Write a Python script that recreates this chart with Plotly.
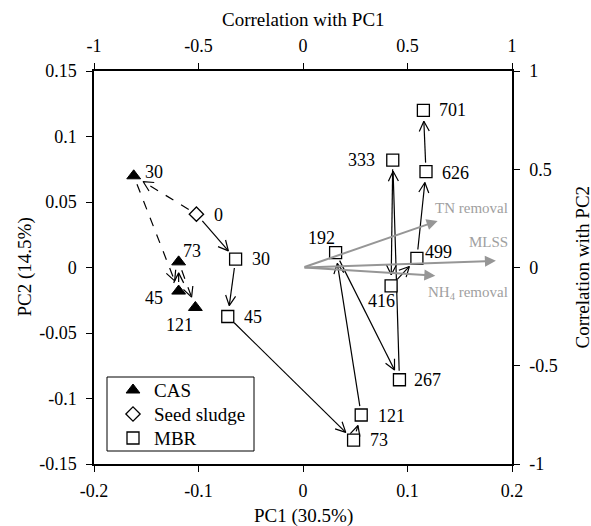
import math
import plotly.graph_objects as go

# ---------------- data ----------------
cas_days = [30, 45, 73, 121]
cas_pc1 = [-0.162, -0.119, -0.119, -0.103]
cas_pc2 = [0.070, -0.018, 0.0043, -0.0305]

seed_days = [0]
seed_pc1 = [-0.102]
seed_pc2 = [0.0407]

mbr_days = [30, 45, 73, 121, 192, 267, 333, 416, 499, 626, 701]
mbr_pc1 = [-0.0645, -0.072, 0.0484, 0.0557, 0.0312, 0.0923, 0.0859, 0.0843, 0.109, 0.1177, 0.1152]
mbr_pc2 = [0.0064, -0.0374, -0.1317, -0.1126, 0.0114, -0.0857, 0.0819, -0.014, 0.0069, 0.0732, 0.120]

loading_names = ["TN removal", "MLSS", "NH<sub>4</sub> removal"]
loading_corr1 = [0.644, 0.923, 0.633]
loading_corr2 = [0.237, 0.034, -0.042]

legend_names = ["CAS", "Seed sludge", "MBR"]

pc_x_ticks = [-0.2, -0.1, 0, 0.1, 0.2]
pc_x_ticktext = ["-0.2", "-0.1", "0", "0.1", "0.2"]
pc_y_ticks = [-0.15, -0.1, -0.05, 0, 0.05, 0.1, 0.15]
pc_y_ticktext = ["-0.15", "-0.1", "-0.05", "0", "0.05", "0.1", "0.15"]
corr_ticks = [-1, -0.5, 0, 0.5, 1]
corr_ticktext = ["-1", "-0.5", "0", "0.5", "1"]

# ---------------- layout constants ----------------
W, H = 591, 526
ML, MR, MT, MB = 94, 79, 71, 62
PW, PH = W - ML - MR, H - MT - MB
XR = (-0.2, 0.2)
YR = (-0.15, 0.15)
FONT = "Liberation Serif"
kx = PW / (XR[1] - XR[0])
ky = PH / (YR[1] - YR[0])

# marker styles
sym_cas = dict(symbol="triangle-up", size=12, color="black", line=dict(color="black", width=1))
sym_seed = dict(symbol="diamond", size=11, color="white", line=dict(color="black", width=1.3))
sym_mbr = dict(symbol="square", size=12, color="white", line=dict(color="black", width=1.3))

# label placement (anchor, dx px, dy px up)
cas_label_pos = [("left", 9, 4), ("right", -14, -7), ("left", 2, 11), ("center", -16, -18)]
seed_label_pos = [("left", 16, -1)]
mbr_label_pos = [("left", 14, 0), ("left", 14, -1), ("left", 14, 0), ("left", 15, -1),
                 ("center", -14, 15), ("left", 13, 0), ("right", -16, 0), ("right", 6, -15),
                 ("left", 6, 6), ("left", 14, -1), ("left", 14, 0)]

fig = go.Figure()
annotations = []
shapes = []


def to_px(x, y):
    return ((x - XR[0]) * kx, (YR[1] - y) * ky)


def to_data(px, py):
    return (px / kx + XR[0], YR[1] - py / ky)


def add_arrow(x0, y0, x1, y1, dash):
    p0 = to_px(x0, y0)
    p1 = to_px(x1, y1)
    dx, dy = p1[0] - p0[0], p1[1] - p0[1]
    L = math.hypot(dx, dy)
    ux, uy = dx / L, dy / L
    s_start, s_end = 9, 11
    tail = (p0[0] + ux * s_start, p0[1] + uy * s_start)
    tip = (p1[0] - ux * s_end, p1[1] - uy * s_end)
    a = to_data(*tail)
    b = to_data(*tip)
    fig.add_trace(go.Scatter(x=[a[0], b[0]], y=[a[1], b[1]], mode="lines",
                             line=dict(color="black", width=1.2, dash=dash),
                             showlegend=False, hoverinfo="skip"))
    hl, hw = 10, 5
    nx, ny = -uy, ux
    base = (tip[0] - ux * hl, tip[1] - uy * hl)
    arm1 = to_data(base[0] + nx * hw, base[1] + ny * hw)
    arm2 = to_data(base[0] - nx * hw, base[1] - ny * hw)
    fig.add_trace(go.Scatter(x=[arm1[0], b[0], arm2[0]], y=[arm1[1], b[1], arm2[1]],
                             mode="lines", line=dict(color="black", width=1.2),
                             showlegend=False, hoverinfo="skip"))


cas_path_x = seed_pc1 + cas_pc1
cas_path_y = seed_pc2 + cas_pc2
for i in range(len(cas_path_x) - 1):
    add_arrow(cas_path_x[i], cas_path_y[i], cas_path_x[i + 1], cas_path_y[i + 1], "dash")

mbr_path_x = seed_pc1 + mbr_pc1
mbr_path_y = seed_pc2 + mbr_pc2
for i in range(len(mbr_path_x) - 1):
    add_arrow(mbr_path_x[i], mbr_path_y[i], mbr_path_x[i + 1], mbr_path_y[i + 1], "solid")

fig.add_trace(go.Scatter(x=cas_pc1, y=cas_pc2, mode="markers", name="CAS", marker=sym_cas))
fig.add_trace(go.Scatter(x=seed_pc1, y=seed_pc2, mode="markers", name="Seed sludge", marker=sym_seed))
fig.add_trace(go.Scatter(x=mbr_pc1, y=mbr_pc2, mode="markers", name="MBR", marker=sym_mbr))
fig.add_trace(go.Scatter(x=[0], y=[0], xaxis="x2", yaxis="y2", mode="markers",
                         marker=dict(opacity=0), showlegend=False, hoverinfo="skip"))


def add_labels(xs, ys, days, pos):
    for x, y, d, (anc, dx, dy) in zip(xs, ys, days, pos):
        annotations.append(dict(x=x, y=y, xref="x", yref="y", text=str(d),
                                showarrow=False, xanchor=anc, yanchor="middle",
                                xshift=dx, yshift=dy,
                                font=dict(family=FONT, size=18, color="black")))


add_labels(cas_pc1, cas_pc2, cas_days, cas_label_pos)
add_labels(seed_pc1, seed_pc2, seed_days, seed_label_pos)
add_labels(mbr_pc1, mbr_pc2, mbr_days, mbr_label_pos)

# loadings
GRAY = "rgb(150,150,150)"
label_dy = [0.065, 0.095, -0.09]
for name, c1, c2, ldy in zip(loading_names, loading_corr1, loading_corr2, label_dy):
    annotations.append(dict(x=c1, y=c2, xref="x2", yref="y2", axref="x2", ayref="y2",
                            ax=0, ay=0, text="", showarrow=True, arrowhead=2,
                            arrowsize=1.1, arrowwidth=2, arrowcolor=GRAY))
    annotations.append(dict(x=0.99, y=c2 + ldy, xref="x2", yref="y2", text=name,
                            showarrow=False, xanchor="right", yanchor="middle",
                            font=dict(family=FONT, size=15, color="rgb(160,160,160)")))

# legend box (drawn manually, pixel layout relative to plot area)
LEG_BOX = (13, 306, 160, 380)      # left, top, right, bottom (px inside plot area)
LEG_SYM_X = 39
LEG_TEXT_X = 60
LEG_ROWS = [319, 343, 367]
shapes.append(dict(type="rect", xref="paper", yref="paper",
                   x0=LEG_BOX[0] / PW, x1=LEG_BOX[2] / PW,
                   y0=1 - LEG_BOX[3] / PH, y1=1 - LEG_BOX[1] / PH,
                   line=dict(color="black", width=1), fillcolor="white", layer="below"))
for name, sym, row in zip(legend_names, [sym_cas, sym_seed, sym_mbr], LEG_ROWS):
    lx, ly = to_data(LEG_SYM_X, row)
    fig.add_trace(go.Scatter(x=[lx], y=[ly], mode="markers", marker=sym,
                             showlegend=False, hoverinfo="skip"))
    annotations.append(dict(x=LEG_TEXT_X / PW, y=1 - row / PH, xref="paper", yref="paper",
                            text=name, showarrow=False, xanchor="left", yanchor="middle",
                            xshift=-2, font=dict(family=FONT, size=19, color="black")))

# axis titles
title_font = dict(family=FONT, size=19, color="black")
annotations += [
    dict(text="PC1 (30.5%)", x=0.5, y=0, xref="paper", yref="paper", showarrow=False,
         yanchor="middle", yshift=-52, font=title_font),
    dict(text="Correlation with PC1", x=0.5, y=1, xref="paper", yref="paper", showarrow=False,
         yanchor="middle", yshift=52, font=title_font),
    dict(text="PC2 (14.5%)", x=0, y=0.5, xref="paper", yref="paper", showarrow=False,
         xanchor="center", xshift=-70, textangle=-90, font=title_font),
    dict(text="Correlation with PC2", x=1, y=0.5, xref="paper", yref="paper", showarrow=False,
         xanchor="center", xshift=70, textangle=-90, font=title_font),
]

tick_font = dict(family=FONT, size=18, color="black")
axis_common = dict(showline=True, linecolor="black", linewidth=1.5, ticks="outside",
                   ticklen=6, tickwidth=1.2, tickcolor="black", showgrid=False,
                   zeroline=False, tickfont=tick_font, automargin=False)

fig.update_layout(
    width=W, height=H,
    margin=dict(l=ML, r=MR, t=MT, b=MB),
    paper_bgcolor="white", plot_bgcolor="white",
    font=dict(family=FONT, color="black"),
    xaxis=dict(range=list(XR), tickvals=pc_x_ticks, ticktext=pc_x_ticktext,
               ticklabelstandoff=4, **axis_common),
    yaxis=dict(range=list(YR), tickvals=pc_y_ticks, ticktext=pc_y_ticktext,
               ticklabelstandoff=6, **axis_common),
    xaxis2=dict(range=[-1, 1], tickvals=corr_ticks, ticktext=corr_ticktext,
                overlaying="x", side="top", anchor="y", ticklabelstandoff=4, **axis_common),
    yaxis2=dict(range=[-1, 1], tickvals=corr_ticks, ticktext=corr_ticktext,
                overlaying="y", side="right", anchor="x", ticklabelstandoff=6, **axis_common),
    annotations=annotations,
    shapes=shapes,
    showlegend=False,
)

fig.write_html("out.html", config={"displayModeBar": False},
               post_script="document.body.style.margin='0';")
